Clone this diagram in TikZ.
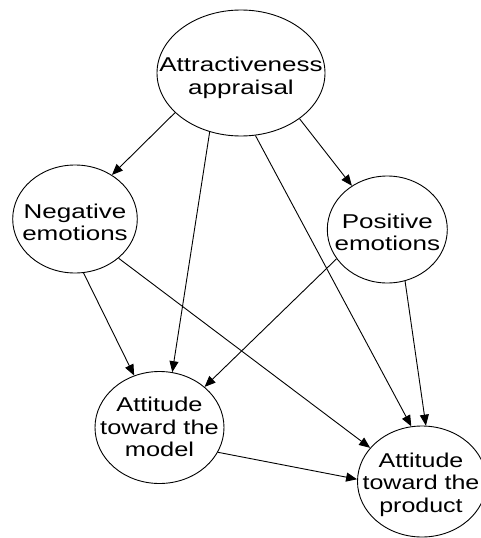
\documentclass[tikz,border=0pt]{standalone}
\usepackage{fontspec}
\setmainfont{Liberation Sans}
\usetikzlibrary{shapes.geometric,arrows.meta}
\newcommand{\nodetxt}[2][1.3]{\scalebox{#1}[1]{\begin{tabular}[t]{@{}c@{}}#2\end{tabular}}}
\tikzset{
  ell/.style={draw, ellipse, inner sep=0pt, line width=0.9pt},
  txt/.style={font=\fontsize{20}{22.5}\selectfont, inner sep=0pt, anchor=base},
  edge/.style={line width=0.9pt, -{Triangle[length=11pt,width=9pt]}}
}
\begin{document}
\begin{tikzpicture}[x=1pt,y=-1pt]
\useasboundingbox (0,0) rectangle (481,538);
\clip (0,0) rectangle (481,538);
\node[ell, minimum width=168pt, minimum height=126pt] (attr) at (241,73) {};
\node[txt] (attrT) at ([yshift=1.3pt]attr.center) {\nodetxt{Attractiveness\\appraisal}};
\node[ell, minimum width=124.6pt, minimum height=108pt] (neg) at (75,219) {};
\node[txt] (negT) at ([yshift=0.7pt]neg.center) {\nodetxt{Negative\\emotions}};
\node[ell, minimum width=120pt, minimum height=107pt] (pos) at (387.3,229.5) {};
\node[txt] (posT) at ([yshift=1.5pt]pos.center) {\nodetxt{Positive\\emotions}};
\node[ell, minimum width=129pt, minimum height=112pt] (model) at (159.5,427.5) {};
\node[txt] (modelT) at ([yshift=15.8pt]model.center) {\nodetxt[1.27]{Attitude\\toward the\\model}};
\node[ell, minimum width=129pt, minimum height=111pt] (prod) at (422,481.5) {};
\node[txt] (prodT) at ([yshift=14.2pt,xshift=-1pt]prod.center) {\nodetxt[1.25]{Attitude\\toward the\\product}};
\draw[edge] (attr.211.6) -- (neg.50.4);
\draw[edge] (attr.242.2) -- (model.77.1);
\draw[edge] (attr.283.1) -- (prod.101.8);
\draw[edge] (attr.322.3) -- (pos.129.7);
\draw[edge] (neg.279.5) -- (model.116.5);
\draw[edge] (neg.318.7) -- (prod.147.4);
\draw[edge] (pos.210.7) -- (model.42.2);
\draw[edge] (pos.289.8) -- (prod.86);
\draw[edge] (model.337.4) -- (prod.178.7);
\end{tikzpicture}
\end{document}
